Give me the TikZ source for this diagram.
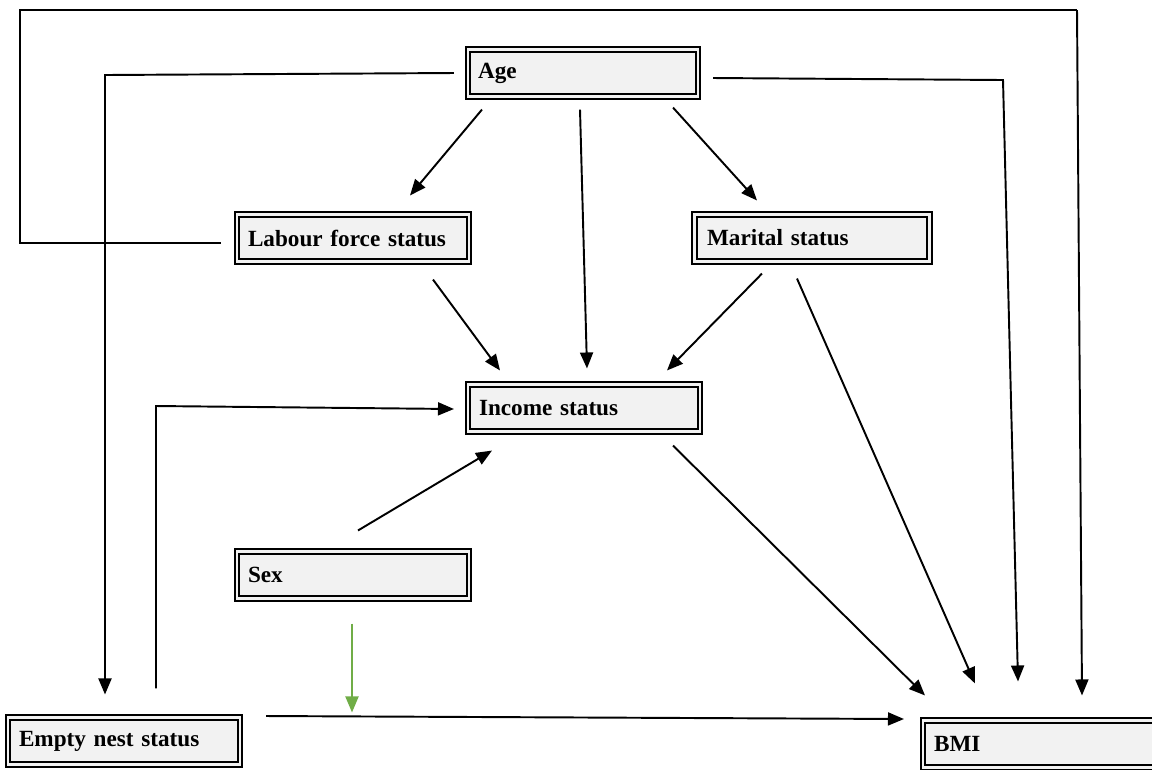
\documentclass[tikz,border=0pt]{standalone}
\usepackage{fontspec}
\setmainfont{Liberation Serif}
\usetikzlibrary{arrows.meta,positioning,calc}
\definecolor{boxfill}{RGB}{242,242,242}
\definecolor{sexcolor}{RGB}{112,173,71}

\begin{document}
\begin{tikzpicture}[
    x=0.02cm, y=-0.02cm,
    box/.style={rectangle, draw, line width=1.2pt, double=boxfill, double distance=1.2pt,
        fill=boxfill, minimum width=4.64cm, minimum height=0.94cm, text width=4.2cm,
        align=left, inner sep=0pt, font=\fontsize{13.2}{15}\selectfont\bfseries},
    arrow/.style={-{Triangle[length=3.2mm,width=2.6mm]}, line width=1.1pt},
    link/.style={line width=1.1pt}
]
    \useasboundingbox (0,0) rectangle (1152,769);

    % Boxes
    \node[box, minimum width=4.6cm] (age) at (583,73) {Age};
    \node[box] (labour) at (353,238) {Labour force status};
    \node[box, minimum width=4.7cm] (marital) at (812,238) {Marital status};
    \node[box] (income) at (584,408) {Income status};
    \node[box] (sex) at (353,575) {Sex};
    \node[box] (nest) at (124,741) {Empty nest status};
    \node[box] (bmi) at (1039,744) {BMI};

    % Corners of the long connectors
    \coordinate (c1) at (20,243);
    \coordinate (c2) at (20,10);
    \coordinate (c3) at (1077,10);
    \coordinate (c4) at (105,75);
    \coordinate (c5) at (1003,80);
    \coordinate (c6) at (156,406);

    % Long connectors
    \draw[link] ($(labour.west)+(-15,5)$) -- (c1) -- (c2) -- (c3);
    \draw[arrow] (c3) -- ($(bmi.north)+(43,-24)$);
    \draw[arrow] ($(age.west)+(-13,0)$) -- (c4) -- ($(nest.north)+(-19,-22)$);
    \draw[arrow] ($(age.east)+(14,5)$) -- (c5) -- ($(bmi.north)+(-21,-38)$);
    \draw[arrow] ($(nest.north)+(32,-28)$) -- (c6) -- ($(income.west)+(-13,1)$);

    % Arrows
    \draw[arrow] ($(age.south)+(-101,12)$) -- ($(labour.north)+(57,-18)$);
    \draw[arrow] ($(age.south)+(-3,12)$) -- ($(income.north)+(3,-15)$);
    \draw[arrow] ($(age.south)+(90,10)$) -- ($(marital.north)+(-55,-13)$);
    \draw[arrow] ($(labour.south)+(80,17)$) -- ($(income.north)+(-84,-13)$);
    \draw[arrow] ($(marital.south)+(-50,11)$) -- ($(income.north)+(83,-13)$);
    \draw[arrow] ($(marital.south)+(-15,16)$) -- ($(bmi.north)+(-64,-36)$);
    \draw[arrow] ($(income.south)+(89,13)$) -- ($(bmi.north)+(-114,-24)$);
    \draw[arrow] ($(sex.north)+(5,-20)$) -- ($(income.south)+(-92,18)$);
    \draw[arrow] ($(nest.east)+(25,-25)$) -- ($(bmi.west)+(-18,-25)$);
    \draw[arrow, draw=sexcolor, -{Triangle[length=3.2mm,width=2.6mm,fill=sexcolor]}]
        ($(sex.south)+(-1,24)$) -- ($(nest.north)+(228,-4)$);
\end{tikzpicture}
\end{document}
